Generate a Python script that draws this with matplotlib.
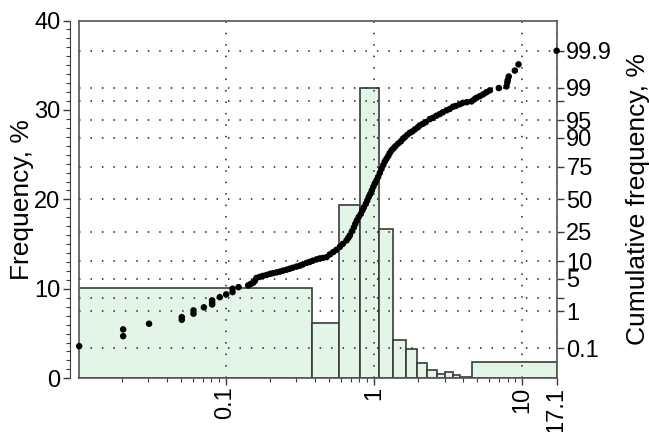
import numpy as np
import matplotlib

matplotlib.use("Agg")
import matplotlib.pyplot as plt
from matplotlib.ticker import FixedLocator, NullFormatter, LogLocator, MultipleLocator
from statistics import NormalDist

plt.rcParams["font.family"] = ["Liberation Sans", "DejaVu Sans"]

# histogram bins (x in data units) and frequency, %
bin_edges = [0.01, 0.38, 0.584, 0.813, 1.076, 1.35, 1.65, 1.97, 2.29, 2.65,
             3.01, 3.41, 3.84, 4.6, 17.1]
freq = [10.1, 6.2, 19.4, 32.5, 16.7, 4.3, 3.24, 1.75, 0.97, 0.48,
        0.67, 0.34, 0.19, 1.86]

# cumulative frequency points (x, cumulative %)
x_points = [
    0.0103, 0.0204, 0.0204, 0.0305, 0.0507, 0.0507, 0.0608, 0.0608, 0.0714,
    0.0812, 0.0812, 0.0812, 0.0915, 0.101, 0.1115, 0.1115, 0.1224, 0.142,
    0.148, 0.1535, 0.1576,
    0.1618, 0.1703, 0.1784, 0.189, 0.199, 0.2085, 0.2208, 0.2323, 0.2434,
    0.2578, 0.2714, 0.2843, 0.3011, 0.317, 0.332, 0.3516, 0.370, 0.388,
    0.411, 0.4323, 0.453, 0.480, 0.505, 0.532, 0.5586, 0.590, 0.618,
    0.6546, 0.673, 0.689, 0.711, 0.733, 0.750, 0.768, 0.792, 0.817,
    0.8365, 0.856, 0.8833, 0.904, 0.925, 0.947, 0.9694, 0.992, 1.016,
    1.043, 1.069, 1.098, 1.127, 1.159, 1.186, 1.218, 1.252, 1.282,
    1.316, 1.354, 1.396, 1.458, 1.521, 1.569, 1.618, 1.682, 1.749,
    1.818, 1.890, 1.981, 2.043, 2.140, 2.242, 2.386, 2.500, 2.639,
    2.786, 2.919, 3.092, 3.254, 3.425, 3.572, 3.80, 3.98,
    4.24, 4.56, 4.76, 4.93, 5.19, 5.46, 5.74, 6.06, 6.97, 7.85, 7.95,
    8.01, 8.13, 8.93, 9.46, 17.1,
]
cum_points = [
    0.114, 0.344, 0.224, 0.488, 0.720, 0.619, 1.05, 0.875, 1.24,
    1.79, 1.61, 1.45, 2.11, 2.41, 2.70, 3.17, 3.41, 3.69,
    3.95, 4.16, 4.51,
    5.13, 5.36, 5.59, 5.82, 6.07, 6.25, 6.45, 6.67, 6.92,
    7.19, 7.48, 7.78, 8.12, 8.41, 8.83, 9.34, 9.70, 10.13,
    10.62, 11.0, 11.2, 11.5, 12.65, 13.66, 14.69, 16.16, 17.75,
    19.7, 21.2, 22.7, 25.3, 28.0, 30.5, 33.1, 35.8, 38.1,
    40.9, 43.4, 46.3, 49.2, 52.1, 54.5, 57.4, 60.3, 63.0,
    65.4, 68.0, 70.9, 73.7, 76.3, 78.5, 80.1, 81.7, 83.3,
    84.6, 85.5, 86.5, 87.7, 88.6, 89.6, 90.2, 91.0, 91.7,
    92.1, 92.7, 93.3, 93.8, 94.2, 94.6, 95.25, 95.5, 95.9,
    96.2, 96.5, 96.8, 97.0, 97.3, 97.4, 97.6, 97.76,
    97.84, 97.92, 98.12, 98.27, 98.41, 98.55, 98.70, 98.83, 98.97, 99.06, 99.25,
    99.35, 99.47, 99.63, 99.75, 99.9,
]

prob_ticks = [0.1, 1, 2, 5, 10, 25, 50, 75, 90, 95, 98, 99, 99.9]
prob_labels = ["0.1", "1", "", "5", "10", "25", "50", "75", "90", "95", "", "99", "99.9"]
x_ticks = [0.1, 1, 10, 17.1]
x_labels = ["0.1", "1", "10", "17.1"]

_nd = NormalDist()
_ppf = np.vectorize(_nd.inv_cdf, otypes=[float])
_cdf = np.vectorize(_nd.cdf, otypes=[float])


def probit(p):
    p = np.clip(np.asarray(p, dtype=float) / 100.0, 1e-12, 1 - 1e-12)
    return _ppf(p)


def inv_probit(z):
    return _cdf(np.asarray(z, dtype=float)) * 100.0


fs = 17
lfs = 19
edge = "#3a3a3a"
dots = (0, (1, 6.5))

fig = plt.figure(figsize=(6.49, 4.32), dpi=100)
ax = fig.add_axes([0.121, 0.1243, 0.7367, 0.8282])

# histogram
lefts = bin_edges[:-1]
widths = np.diff(bin_edges)
ax.bar(lefts, freq, width=widths, align="edge", color="#e2f5e6",
       edgecolor=edge, linewidth=1.2, zorder=1)

ax.set_xscale("log")
ax.set_xlim(0.0102, 17.1)
ax.set_ylim(0, 40)
ax.xaxis.set_major_locator(FixedLocator(x_ticks))
ax.set_xticklabels(x_labels, rotation=90, fontsize=fs)
ax.xaxis.set_minor_locator(LogLocator(base=10, subs=np.arange(2, 10)))
ax.xaxis.set_minor_formatter(NullFormatter())
ax.yaxis.set_major_locator(MultipleLocator(10))
ax.yaxis.set_minor_locator(MultipleLocator(1))
ax.tick_params(axis="both", which="major", labelsize=fs, length=5, width=1, color=edge, pad=2)
ax.tick_params(axis="x", which="major", pad=1)
ax.tick_params(axis="both", which="minor", length=3, width=0.8, color=edge)
ax.set_axisbelow(False)
ax.grid(axis="x", which="major", color="#222222", linestyle=dots, linewidth=1.1)
ax.spines["left"].set_position(("outward", 6))
ax.spines["left"].set_color(edge)
for s in ("top", "right", "bottom"):
    ax.spines[s].set_visible(False)
ax.set_ylabel("Frequency, %", fontsize=lfs, labelpad=0)

# cumulative frequency on probability scale
ax2 = ax.twinx()
ax2.set_yscale("function", functions=(probit, inv_probit))
ax2.set_ylim(0.01, 99.99)
ax2.yaxis.set_major_locator(FixedLocator(prob_ticks))
ax2.set_yticklabels(prob_labels, fontsize=fs)
ax2.yaxis.set_minor_locator(FixedLocator([]))
ax2.tick_params(axis="y", which="major", length=5, width=1, color=edge, pad=2)
ax2.grid(axis="y", which="major", color="#222222", linestyle=dots, linewidth=1.1)
for s in ax2.spines.values():
    s.set_color("#555555")
    s.set_linewidth(1.2)
ax2.scatter(x_points, cum_points, s=22, c="black", edgecolors="none",
            zorder=3, clip_on=False)
ax2.set_ylabel("Cumulative frequency, %", fontsize=lfs, labelpad=10)

plt.savefig("out.png", dpi=100)
